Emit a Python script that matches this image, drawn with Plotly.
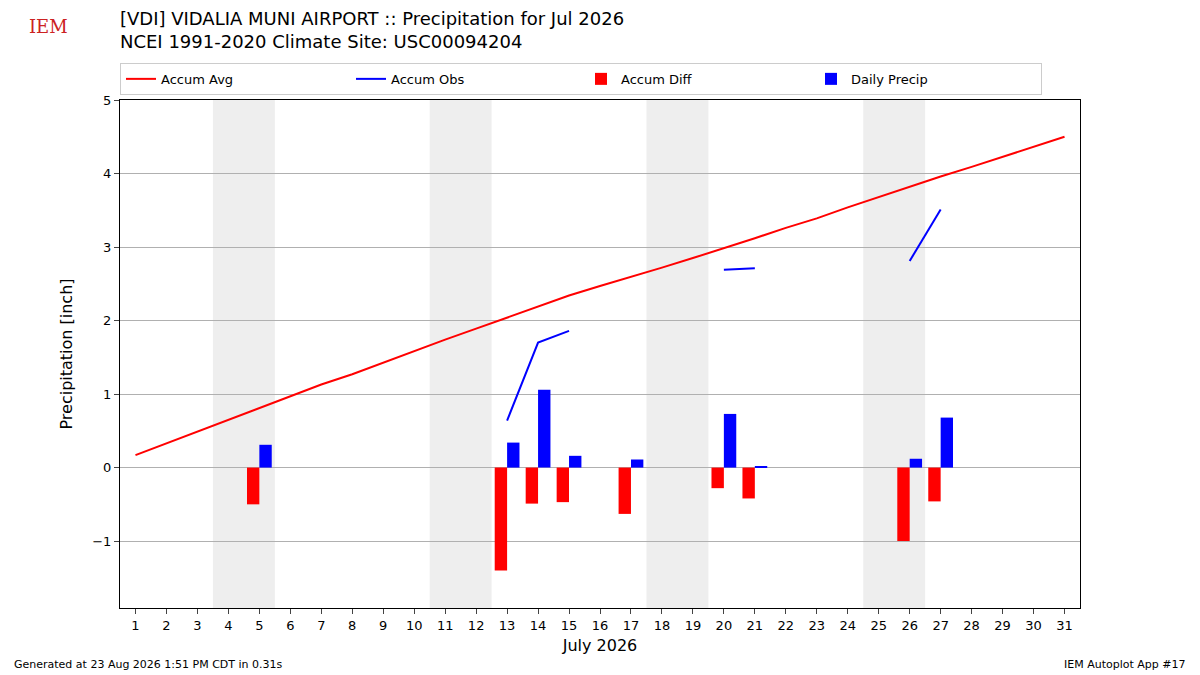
import plotly.graph_objects as go

days = list(range(1, 32))
accum_avg = [0.17,0.33,0.49,0.65,0.81,0.97,1.13,1.27,1.43,1.58,1.74,1.89,2.04,2.19,2.34,2.47,2.59,2.72,2.85,2.98,3.12,3.26,3.39,3.54,3.68,3.83,3.96,4.09,4.23,4.36,4.50]
obs_days = [13,14,15,None,20,21,None,26,27]
accum_obs = [0.64,1.70,1.86,None,2.69,2.71,None,2.81,3.51]
bar_days = [5,13,14,15,17,20,21,26,27]
accum_diff = [-0.50,-1.40,-0.49,-0.47,-0.63,-0.28,-0.42,-1.00,-0.46]
daily_precip = [0.31,0.34,1.06,0.16,0.11,0.73,0.01,0.12,0.68]
weekends = [(3.5,5.5),(10.5,12.5),(17.5,19.5),(24.5,26.5)]

fig = go.Figure()
fig.add_trace(go.Scatter(x=days, y=accum_avg, mode="lines", name="Accum Avg", line=dict(color="red", width=2)))
fig.add_trace(go.Scatter(x=obs_days, y=accum_obs, mode="lines", name="Accum Obs", line=dict(color="blue", width=2), connectgaps=False))
fig.add_trace(go.Bar(x=[d-0.2 for d in bar_days], y=accum_diff, width=0.4, name="Accum Diff", marker=dict(color="red", line=dict(width=0))))
fig.add_trace(go.Bar(x=[d+0.2 for d in bar_days], y=daily_precip, width=0.4, name="Daily Precip", marker=dict(color="blue", line=dict(width=0))))
for a, b in weekends:
    fig.add_vrect(x0=a, x1=b, fillcolor="#eeeeee", line_width=0, layer="below")

fig.update_layout(
    width=1200, height=675, plot_bgcolor="white", paper_bgcolor="white",
    margin=dict(l=112, r=128, t=92, b=75, autoexpand=False),
    font=dict(family="DejaVu Sans", size=13, color="black"),
    barmode="overlay", showlegend=True,
    legend=dict(orientation="h", x=0.0, y=1.01, xanchor="left", yanchor="bottom",
                bordercolor="#cccccc", borderwidth=1, entrywidth=185, entrywidthmode="pixels",
                font=dict(size=13)),
    title=dict(text="[VDI] VIDALIA MUNI AIRPORT :: Precipitation for Jul 2026<br>NCEI 1991-2020 Climate Site: USC00094204",
               x=0.0933, y=0.975, xanchor="left", yanchor="top", font=dict(size=18)),
    xaxis=dict(range=[0.5, 31.5], tickmode="array", tickvals=days, ticktext=[str(d) for d in days],
               showgrid=False, showline=True, linecolor="black", mirror=True, ticks="outside", automargin=False,
               title=dict(text="July 2026", font=dict(size=16), standoff=8)),
    yaxis=dict(range=[-1.91, 5], tickmode="array", tickvals=[-1,0,1,2,3,4,5], ticktext=["\u22121","0","1","2","3","4","5"],
               showgrid=True, gridcolor="#b0b0b0", zeroline=False, showline=True, linecolor="black", mirror=True,
               ticks="outside", automargin=False, title=dict(text="Precipitation [inch]", font=dict(size=16))),
)
fig.add_annotation(text="Generated at 23 Aug 2026 1:51 PM CDT in 0.31s", xref="paper", yref="paper",
                   x=-0.1125, y=-0.112, xanchor="left", yanchor="middle", showarrow=False, font=dict(size=11))
fig.add_annotation(text="IEM Autoplot App #17", xref="paper", yref="paper",
                   x=1.1125, y=-0.112, xanchor="right", yanchor="middle", showarrow=False, font=dict(size=11))
fig.add_annotation(text="IEM", xref="paper", yref="paper", x=-0.097, y=1.145, xanchor="left", yanchor="middle",
                   showarrow=False, font=dict(size=18, color="#cc2222", family="DejaVu Serif"))
fig.write_html("out.html")
